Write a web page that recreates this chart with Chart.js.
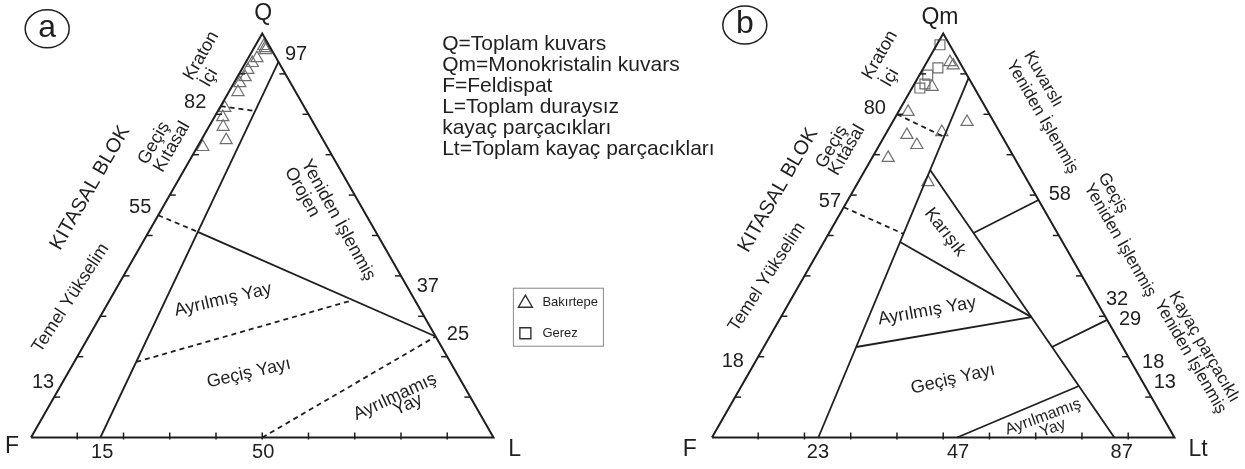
<!DOCTYPE html>
<html>
<head>
<meta charset="utf-8">
<script src="https://cdn.jsdelivr.net/npm/chart.js@4.4.0/dist/chart.umd.min.js"></script>
<style>
  html, body { margin: 0; padding: 0; background: #fff; }
  canvas { display: block; }
</style>
</head>
<body>
<canvas id="ternary" width="1245" height="469"></canvas>
<script>
// ---- sample data (percentages) ----
// (a) QFL diagram: Q and L, F is the remainder
const aBakirtepeQ = [96.9, 96.4, 95.9, 93.9, 92.7, 91.0, 89.2, 87.7, 85.5, 81.6, 79.3, 76.9, 73.6, 71.9];
const aBakirtepeL = [1.9, 2.4, 2.8, 1.9, 1.5, 1.4, 1.7, 1.3, 2.0, 1.1, 1.8, 3.1, 5.4, 1.2];
// (b) QmFLt diagram: Qm and Lt, F is the remainder
const bBakirtepeQm = [92.9, 92.1, 86.8, 80.6, 74.9, 72.4, 75.6, 78.1, 69.2, 63.2];
const bBakirtepeLt = [5.0, 6.1, 4.2, 2.1, 4.7, 8.1, 11.9, 16.1, 3.5, 15.1];
const bGerezQm = [97.2, 91.5, 89.7, 86.5, 87.5];
const bGerezLt = [0.7, 3.1, 1.8, 1.7, 2.3];

// field boundaries, each segment as [[Q, L], [Q, L]]
const aSolid = [[[0, 15], [93, 7]], [[50.9, 10.6], [25, 75]]];
const aDashed = [[[82, 0], [80.8, 8.05]], [[55, 0], [50.9, 10.6]], [[18.7, 13.4], [34, 52.6]], [[0, 50], [25, 75]]];
const bSolid = [[[0, 23], [89, 11]], [[66.2, 14.07], [0, 87]], [[50.6, 31.25], [58.8, 41.2]],
                [[22.4, 62.3], [29.1, 70.9]], [[48.4, 16.47], [29.8, 54.17]], [[22.4, 19.98], [29.8, 54.17]],
                [[0, 53], [12.75, 72.95]]];
const bDashed = [[[80, 0], [74.4, 13]], [[57, 0], [50.4, 16.2]]];

// tick values along every side
const sideTicks = [10, 20, 30, 40, 50, 60, 70, 80, 90];

// text labels: [text, triangle, x, y, rotation, size]
const labels = [
    ['Q', 0, 50.2, 90.8, 0, 23], ['97', 0, 57.3, 82.0, 0, 20], ['82', 0, 35.5, 71.9, 0, 20],
    ['55', 0, 23.6, 49.2, 0, 20], ['13', 0, 2.6, 11.7, 0, 20], ['15', 0, 15.4, -3.3, 0, 20],
    ['50', 0, 50.2, -3.3, 0, 20], ['37', 0, 85.8, 32.3, 0, 20], ['25', 0, 92.3, 22.0, 0, 20],
    ['F', 0, -4.1, -2.0, 0, 23], ['L', 0, 104.6, -2.7, 0, 23],
    ['Kraton', 0, 36.8, 81.8, -60, 18], ['İçi', 0, 38.5, 77.1, -60, 18],
    ['Geçiş', 0, 26.6, 63.1, -60, 18], ['Kıtasal', 0, 30.5, 62.3, -60, 18],
    ['KITASAL BLOK', 0, 12.8, 53.5, -60, 20], ['Temel Yükselim', 0, 8.6, 29.9, -57, 18],
    ['Yeniden İşlenmiş', 0, 66.4, 46.6, 61, 18], ['Orojen', 0, 58.6, 52.6, 61, 18],
    ['Ayrılmış Yay', 0, 41.5, 29.5, -13, 18], ['Geçiş Yayı', 0, 47.1, 13.8, -13, 18],
    ['Ayrılmamış', 0, 78.7, 8.7, -25, 18], ['Yay', 0, 81.5, 7.0, -25, 18],

    ['Qm', 1, 49.3, 89.9, 0, 23], ['F', 1, -4.8, -2.7, 0, 23], ['Lt', 1, 105.1, -2.7, 0, 23],
    ['80', 1, 35.2, 70.6, 0, 20], ['57', 1, 25.5, 50.5, 0, 20], ['18', 1, 4.5, 16.2, 0, 20],
    ['23', 1, 22.9, -3.3, 0, 20], ['47', 1, 53.2, -3.3, 0, 20], ['87', 1, 88.6, -3.3, 0, 20],
    ['58', 1, 75.2, 52.0, 0, 20], ['32', 1, 87.6, 29.5, 0, 20], ['29', 1, 90.4, 25.2, 0, 20],
    ['18', 1, 95.4, 16.0, 0, 20], ['13', 1, 97.9, 11.9, 0, 20],
    ['Kraton', 1, 36.3, 82.0, -60, 18], ['İçi', 1, 38.5, 77.1, -60, 18],
    ['Geçiş', 1, 25.9, 62.3, -60, 18], ['Kıtasal', 1, 29.2, 61.6, -60, 18],
    ['KITASAL BLOK', 1, 14.3, 53.0, -60, 20], ['Temel Yükselim', 1, 11.9, 34.4, -57, 18],
    ['Karışık', 1, 50.4, 44.0, 52, 18], ['Ayrılmış Yay', 1, 46.5, 27.1, -10, 18],
    ['Geçiş Yayı', 1, 52.1, 12.5, -13, 18], ['Ayrılmamış', 1, 71.6, 4.4, -20, 16], ['Yay', 1, 73.7, 2.0, -20, 16],
    ['Kuvarslı', 1, 71.6, 76.8, 60, 17], ['Yeniden İşlenmiş', 1, 71.4, 68.7, 60, 17],
    ['Geçiş', 1, 86.7, 52.4, 60, 17], ['Yeniden İşlenmiş', 1, 88.2, 42.3, 60, 17],
    ['Kayaç parçacıklı', 1, 106.4, 19.4, 60, 17], ['Yeniden İşlenmiş', 1, 103.4, 17.3, 60, 17]
];

const legendLines = [
    'Q=Toplam kuvars',
    'Qm=Monokristalin kuvars',
    'F=Feldispat',
    'L=Toplam duraysız',
    'kayaç parçacıkları',
    'Lt=Toplam kayaç parçacıkları'
];

// ---- geometry helpers ----
const H = Math.sqrt(3) / 2;
const OFFSET_B = 147.24;
const FONT = '"Liberation Sans", Arial, sans-serif';
const INK = '#1f1f1f';

// ternary (Q, L) -> cartesian data units
function tern (tri, q, l) {
    return { x: (tri ? OFFSET_B : 0) + l + q / 2, y: q * H };
}

function lineSet (points, dashed, width) {
    return {
        data: points,
        showLine: true,
        borderColor: INK,
        borderWidth: width,
        borderDash: dashed ? [5, 4] : [],
        pointRadius: 0,
        fill: false,
        tension: 0
    };
}

const datasets = [];
[0, 1].forEach(function (tri) {
    datasets.push(lineSet([tern(tri, 0, 0), tern(tri, 0, 100), tern(tri, 100, 0), tern(tri, 0, 0)], false, 2));
});
aSolid.forEach(s => datasets.push(lineSet(s.map(p => tern(0, p[0], p[1])), false, 1.8)));
aDashed.forEach(s => datasets.push(lineSet(s.map(p => tern(0, p[0], p[1])), true, 1.8)));
bSolid.forEach(s => datasets.push(lineSet(s.map(p => tern(1, p[0], p[1])), false, 1.8)));
bDashed.forEach(s => datasets.push(lineSet(s.map(p => tern(1, p[0], p[1])), true, 1.8)));

const markerStyle = {
    showLine: false,
    borderColor: '#6f6f6f',
    backgroundColor: 'rgba(255,255,255,0)',
    borderWidth: 1.2,
    pointRadius: 7
};
datasets.push(Object.assign({
    label: 'Bakırtepe',
    pointStyle: 'triangle',
    data: aBakirtepeQ.map((q, i) => tern(0, q, aBakirtepeL[i]))
        .concat(bBakirtepeQm.map((q, i) => tern(1, q, bBakirtepeLt[i])))
}, markerStyle));
datasets.push(Object.assign({
    label: 'Gerez',
    pointStyle: 'rect',
    data: bGerezQm.map((q, i) => tern(1, q, bGerezLt[i]))
}, markerStyle));

// ticks, labels, circled letters and the symbol box
const decorations = {
    id: 'decorations',
    afterDatasetsDraw (chart) {
        const ctx = chart.ctx;
        const sx = chart.scales.x;
        const sy = chart.scales.y;
        const px = p => [sx.getPixelForValue(p.x), sy.getPixelForValue(p.y)];

        ctx.save();
        ctx.strokeStyle = INK;
        ctx.lineWidth = 1.5;
        [0, 1].forEach(function (tri) {
            sideTicks.forEach(function (v) {
                let p = px(tern(tri, v, 0));        // F-Q side
                ctx.beginPath(); ctx.moveTo(p[0], p[1]); ctx.lineTo(p[0] + 6, p[1]); ctx.stroke();
                p = px(tern(tri, v, 100 - v));      // L-Q side
                ctx.beginPath(); ctx.moveTo(p[0], p[1]); ctx.lineTo(p[0] - 6, p[1]); ctx.stroke();
                p = px(tern(tri, 0, v));            // F-L base
                ctx.beginPath(); ctx.moveTo(p[0], p[1] + 2); ctx.lineTo(p[0], p[1] - 5); ctx.stroke();
            });
        });

        ctx.fillStyle = INK;
        ctx.textAlign = 'center';
        ctx.textBaseline = 'middle';
        labels.forEach(function (lb) {
            const p = px({ x: (lb[1] ? OFFSET_B : 0) + lb[2], y: lb[3] });
            ctx.save();
            ctx.translate(p[0], p[1]);
            ctx.rotate(lb[4] * Math.PI / 180);
            ctx.font = lb[5] + 'px ' + FONT;
            ctx.fillText(lb[0], 0, 0);
            ctx.restore();
        });

        // circled panel letters
        [['a', 3.5, 87.6], ['b', OFFSET_B + 7.1, 88.4]].forEach(function (c) {
            const p = px({ x: c[1], y: c[2] });
            ctx.beginPath();
            ctx.ellipse(p[0], p[1], 22, 19, 0, 0, Math.PI * 2);
            ctx.lineWidth = 1.5;
            ctx.stroke();
            ctx.font = '32px ' + FONT;
            ctx.fillText(c[0], p[0], p[1] - 1);
        });

        // abbreviations
        ctx.textAlign = 'left';
        ctx.font = '21px ' + FONT;
        legendLines.forEach(function (t, i) {
            const p = px({ x: 88.9, y: 84.4 - i * 4.5 });
            ctx.fillText(t, p[0], p[1]);
        });

        // symbol box
        const box = px({ x: 104.3, y: 32.0 });
        ctx.lineWidth = 1;
        ctx.strokeStyle = '#888';
        ctx.strokeRect(box[0], box[1], 90, 58);
        ctx.font = '13px ' + FONT;
        chart.data.datasets.filter(d => d.label).forEach(function (d, i) {
            const cx = box[0] + 12;
            const cy = box[1] + 14 + i * 31;
            ctx.strokeStyle = '#333';
            ctx.lineWidth = 1.4;
            ctx.beginPath();
            if (d.pointStyle === 'triangle') {
                ctx.moveTo(cx, cy - 7); ctx.lineTo(cx + 7, cy + 5); ctx.lineTo(cx - 7, cy + 5); ctx.closePath();
            } else {
                ctx.rect(cx - 5.5, cy - 5.5, 11, 11);
            }
            ctx.stroke();
            ctx.fillText(d.label, cx + 17, cy);
        });
        ctx.restore();
    }
};

const myChart = new Chart(document.getElementById('ternary'), {
    type: 'scatter',
    data: { datasets: datasets },
    options: {
        responsive: false,
        animation: false,
        layout: { padding: 0, autoPadding: false },
        plugins: { legend: { display: false }, tooltip: { enabled: false } },
        scales: {
            x: { type: 'linear', display: false, min: -6.703, max: 262.49 },
            y: { type: 'linear', display: false, min: -6.752, max: 93.78 }
        }
    },
    plugins: [decorations]
});
</script>
</body>
</html>
